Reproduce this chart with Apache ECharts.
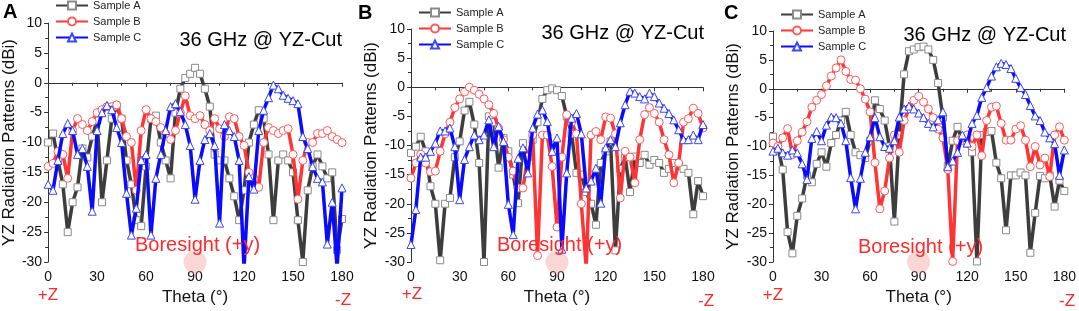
<!DOCTYPE html>
<html>
<head>
<meta charset="utf-8">
<script src="https://cdn.jsdelivr.net/npm/echarts@6/dist/echarts.min.js"></script>
<style>
html,body{margin:0;padding:0;background:#fff;}
#chart{width:1079px;height:311px;}
</style>
</head>
<body>
<div id="chart"></div>
<script>
// Theta samples (degrees)
const theta = [0,3,6,9,12,15,18,21,24,27,30,33,36,39,42,45,48,51,54,57,60,63,66,69,72,75,78,81,84,87,90,93,96,99,102,105,108,111,114,117,120,123,126,129,132,135,138,141,144,147,150,153,156,159,162,165,168,171,174,177,180];
const xTicks = [0,30,60,90,120,150,180];
const yTicks = [-30,-25,-20,-15,-10,-5,0,5,10];
const seriesNames = ['Sample A','Sample B','Sample C'];

// Panel A
const panelA_sampleA = [-10,-8.5,-13,-17,-25,-20,-17.5,-11,-12.5,-9,-6.3,-20,-13,-6,-4,-6,-13,-17,-23,-24,-14,-6,-5.5,-10,-13,-16,-5,-1,0.8,1.5,2.5,1.5,-1,-4,-12,-13,-13,-16,-19,-23,-18,-10,-7,-4.6,-6,-12,-23,-13,-12,-13,-15,-23,-30,-18,-14,-12,-14,-16,-15,-28,-22.8];
const panelA_sampleB = [-14,-13.5,-11.5,-12,-16,-8,-6,-7,-8,-6.5,-5,-4.5,-4,-4,-3.7,-6,-9,-10,-18,-8,-4.5,-6,-6.5,-7.5,-8.5,-9.5,-8,-5,-2.2,-5.5,-6,-5.5,-7,-8,-6,-7.7,-9,-5.7,-6,-9,-10.5,-15,-16,-17.5,-10,-7.5,-8,-8.5,-8,-7.7,-12,-19.5,-13,-10,-10,-8.5,-8.5,-8,-9,-9.5,-10];
const panelA_sampleC = [-17,-18,-13,-8.5,-6.8,-8,-12,-11,-14,-21.5,-8,-5,-3.8,-4.5,-7.5,-10,-18.5,-25.5,-21,-13,-12,-25.5,-16,-12,-8,-4,-3.5,-4.8,-7,-10.5,-19.5,-13,-9.5,-8.5,-10.5,-23.5,-7,-8,-9,-13,-31,-15.7,-17.8,-8,-4.6,-2.5,-0.4,-1,-2.1,-2.6,-3,-3.5,-9,-11,-14,-16,-16.6,-27,-20,-31,-17.6];

// Panel B
const panelB_sampleA = [-11.3,-10.2,-8.5,-11,-17,-20,-29.7,-20,-19,-12,-9.3,-4,-2.5,-6.4,-13,-30,-5,-6,-13.8,-8.7,-11,-15,-19.9,-9.6,-12,-9,-6,-2,-0.5,-0.2,-0.5,-1.5,-5,-8,-14.7,-15,-18,-20,-23.6,-13,-11,-9.3,-28,-14,-12,-18,-11.9,-13,-11.6,-13.3,-12.5,-13,-14.7,-14,-13,-13.5,-14,-14.7,-21.8,-16.1,-18.7];
const panelB_sampleB = [-15.6,-13,-11.5,-13,-14.5,-14.4,-11,-8,-6,-3.5,-2,-0.8,0,-0.5,-1.2,-2,-3,-4.5,-7,-9,-12,-14.4,-17.3,-17.3,-12,-8.2,-28.9,-8.2,-8.2,-13.6,-24,-12,-4.7,-6,-8,-20,-31,-8.2,-7.6,-9,-5.1,-5.3,-8,-19,-11,-12,-16.4,-9,-4.7,-3.5,-4.5,-6,-9,-11.6,-16.4,-13,-6,-5.4,-3.6,-4.5,-7];
const panelB_sampleC = [-27,-21,-12,-12,-11,-9.6,-7.5,-7.5,-7,-10.2,-19.3,-12.4,-10.2,-8.2,-9,-8.2,-5.6,-10.2,-6.7,-9.3,-20.1,-25.3,-12.2,-10.4,-14.7,-7,-4.6,-3.9,-5.9,-11,-8.7,-27.8,-14.7,-5.3,-4.5,-8,-17.3,-16.1,-13.9,-19.9,-10.4,-9,-10.2,-6.1,-3,-0.7,-1,-1.6,-2,-1,-1.6,-2.7,-3.6,-4.5,-5.6,-7.3,-9,-9,-8.2,-9,-6.4];

// Panel C
const panelC_sampleA = [-8.3,-10,-14,-24.8,-28.5,-22,-19,-15,-16.2,-13,-11,-13.5,-9.4,-8,-5.5,-4,-8,-11,-11.5,-12,-9,-2,-3.5,-5.5,-10,-23,-8,2.5,6.5,6.8,7.2,7.3,6.8,5,1,-5,-13.4,-9,-6.6,-9,-9.5,-11,-29.9,-8,-7.5,-7.3,-12.8,-15.5,-24.5,-15,-15,-14.5,-15,-28.4,-21.5,-15.1,-15.5,-15,-20.4,-15.9,-17.7];
const panelC_sampleB = [-9.4,-10,-8.5,-6.9,-11.4,-9,-7.5,-5.7,-3.2,-2,-1,0.5,2.2,3.6,5,3,1.6,1.5,0,-1.8,-4,-12.8,-20.8,-17.7,-12,-8,-11,-5.5,-3.5,-2,-1.3,-2.3,-3.5,-5,-7,-8.5,-14,-29.9,-9,-8.5,-8,-10,-8,-11.6,-5.5,-3.2,-3,-6,-8.9,-8.9,-7,-6.4,-8.9,-13.5,-10,-13.2,-12,-15.2,-8,-6.6,-8.9];
const panelC_sampleC = [-10.8,-10.3,-11.1,-11.5,-10.6,-11.1,-13,-15.7,-8.6,-7.4,-9,-6.3,-4.9,-5,-6,-9,-15.4,-20.8,-15.5,-11,-8.3,-5,-8.3,-10,-10.3,-9,-4.9,-3.5,-3,-3.5,-4.2,-5,-6,-6.6,-5.4,-4,-13.5,-12.5,-11,-8,-9.4,-6,-4.6,-1.5,0.2,2.2,3.8,4.4,4.2,3.5,1.8,0.2,-1,-2.9,-4.7,-5.5,-7.5,-8.5,-9.5,-15,-10.6];

const boresight = [[90, -30]];

const panels = [
  {data:[panelA_sampleA, panelA_sampleB, panelA_sampleC], letter:'A'},
  {data:[panelB_sampleA, panelB_sampleB, panelB_sampleC], letter:'B'},
  {data:[panelC_sampleA, panelC_sampleB, panelC_sampleC], letter:'C'}
];

// Layout (pixels)
const grids = [
  {left:48, top:23, width:294, height:239},
  {left:411, top:29, width:292, height:234},
  {left:773, top:31, width:292, height:235}
];
const yNameGap = [30, 31, 31];
const legendPos = [{left:55, top:0}, {left:418, top:7}, {left:780, top:9}];
const letterPos = [{x:3, y:2}, {x:358, y:3}, {x:724, y:3}];
const titlePos = [{x:342, y:40}, {x:704, y:33}, {x:1066, y:35}];
const borePos = [{x:135, y:245}, {x:497, y:245}, {x:858, y:247}];
const plusZPos = [{x:48, y:295}, {x:412, y:294}, {x:773, y:295}];
const minusZPos = [{x:343, y:300}, {x:706, y:301}, {x:1067, y:301}];

const FONT = 'Arial, "Liberation Sans", Helvetica, sans-serif';
const lineColors = ['#3d3d3d', '#ff3535', '#0a0aff'];
const markBorder = ['#8a8a8a', '#ff5a5a', '#3a46ff'];
const symbols = ['rect', 'circle', 'triangle'];
const symbolSizes = [7, 8, 8];

const xAxes = [], yAxes = [], series = [], legends = [], graphics = [];
panels.forEach((p, gi) => {
  xAxes.push({
    type:'value', gridIndex:gi, min:0, max:180, interval:30,
    name:'Theta (°)', nameLocation:'middle', nameGap:27,
    nameTextStyle:{fontSize:17, color:'#111', fontFamily:FONT},
    axisLine:{show:true, lineStyle:{color:'#333', width:1}},
    axisTick:{show:true, length:4, lineStyle:{color:'#333'}},
    minorTick:{show:true, splitNumber:2, length:3, lineStyle:{color:'#333'}},
    splitLine:{show:false},
    axisLabel:{fontSize:14, color:'#111', margin:8, fontFamily:FONT}
  });
  yAxes.push({
    type:'value', gridIndex:gi, min:-30, max:10, interval:5,
    name:'YZ Radiation Patterns (dBi)', nameLocation:'middle', nameGap:yNameGap[gi],
    nameTextStyle:{fontSize:17, color:'#111', fontFamily:FONT},
    axisLine:{show:true, lineStyle:{color:'#333', width:1}},
    axisTick:{show:true, length:4, lineStyle:{color:'#333'}},
    minorTick:{show:true, splitNumber:2, length:3, lineStyle:{color:'#333'}},
    splitLine:{show:false},
    axisLabel:{fontSize:14, color:'#111', margin:6, fontFamily:FONT}
  });
  series.push({
    type:'scatter', xAxisIndex:gi, yAxisIndex:gi, data:boresight,
    symbolSize:23, clip:false, silent:true, z:1,
    itemStyle:{color:'rgba(240,140,140,0.45)'}
  });
  p.data.forEach((vals, si) => {
    series.push({
      type:'line', name:seriesNames[si], xAxisIndex:gi, yAxisIndex:gi,
      data: theta.map((t, i) => [t, vals[i]]),
      symbol:symbols[si], symbolSize:symbolSizes[si], showAllSymbol:true,
      lineStyle:{color:lineColors[si], width:3.5},
      itemStyle:{color:'#fff', borderColor:markBorder[si], borderWidth:1},
      z:2 + si, animation:false
    });
  });
  legends.push({
    orient:'vertical', left:legendPos[gi].left, top:legendPos[gi].top, padding:0,
    itemWidth:32, itemHeight:10, itemGap:5, selectedMode:false,
    textStyle:{fontSize:11, color:'#222', fontFamily:FONT},
    data:seriesNames
  });
  graphics.push({type:'text', x:letterPos[gi].x, y:letterPos[gi].y, z:10,
    style:{text:p.letter, font:'bold 20px ' + FONT, fill:'#000'}});
  graphics.push({type:'text', x:titlePos[gi].x, y:titlePos[gi].y, z:10,
    style:{text:'36 GHz @ YZ-Cut', font:'20px ' + FONT, fill:'#000', align:'right', verticalAlign:'middle'}});
  graphics.push({type:'text', x:borePos[gi].x, y:borePos[gi].y, z:10,
    style:{text:'Boresight (+y)', font:'20px ' + FONT, fill:'#ff2a2a', verticalAlign:'middle'}});
  graphics.push({type:'text', x:plusZPos[gi].x, y:plusZPos[gi].y, z:10,
    style:{text:'+Z', font:'17px ' + FONT, fill:'#ff2a2a', align:'center', verticalAlign:'middle'}});
  graphics.push({type:'text', x:minusZPos[gi].x, y:minusZPos[gi].y, z:10,
    style:{text:'-Z', font:'17px ' + FONT, fill:'#ff2a2a', align:'center', verticalAlign:'middle'}});
});

const chart = echarts.init(document.getElementById('chart'), null, {renderer:'canvas'});
chart.setOption({
  animation:false,
  backgroundColor:'#fff',
  textStyle:{fontFamily:FONT},
  grid:grids,
  xAxis:xAxes,
  yAxis:yAxes,
  legend:legends,
  series:series,
  graphic:graphics
});
</script>
</body>
</html>
